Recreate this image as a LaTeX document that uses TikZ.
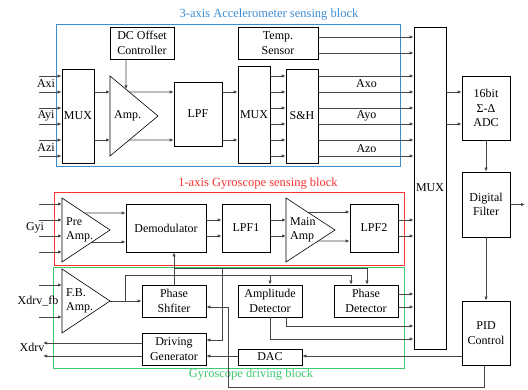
\documentclass[tikz,border=0pt]{standalone}
\usepackage{fontspec}
\setmainfont{Liberation Serif}
\usetikzlibrary{arrows.meta,calc}
\definecolor{cblue}{RGB}{60,140,210}
\definecolor{cred}{RGB}{250,50,50}
\definecolor{cgreen}{RGB}{60,200,110}
\definecolor{cline}{RGB}{70,70,70}
\newcommand\fs{\fontsize{12}{14.5}\selectfont}
\begin{document}
\begin{tikzpicture}[x=1pt,y=-1pt,
 blk/.style={draw=black, line width=0.6pt, inner sep=0pt, align=center, font=\fs},
 tri/.style={draw=black, line width=0.6pt},
 con/.style={draw=cline, line width=0.8pt},
 arr/.style={con, -{Latex[length=4pt,width=3.4pt]}},
 lbl/.style={font=\fs, inner sep=0pt, align=left},
 ttl/.style={font=\fontsize{12.5}{14}\selectfont, inner sep=0pt},
 frame/.style={line width=0.8pt}]
\useasboundingbox (0,0) rectangle (528,390);
% frames
\draw[frame,draw=cblue] (56,24) rectangle (400,166);
\draw[frame,draw=cred] (54,192) rectangle (404,265);
\draw[frame,draw=cgreen] (53,267) rectangle (404,368);
\node[ttl,text=cblue] (tacc) at (269,15) {3-axis Accelerometer sensing block};
\node[ttl,text=cred] (tgyr) at (258,184) {1-axis Gyroscope sensing block};
\node[ttl,text=cgreen] (tdrv) at (251,375) {Gyroscope driving block};
% accelerometer blocks
\node[blk,minimum width=64pt,minimum height=32pt] (dc) at (142,43) {DC Offset\\Controller};
\node[blk,minimum width=80pt,minimum height=32pt] (temp) at (278,43) {Temp.\\Sensor};
\node[blk,minimum width=32pt,minimum height=94pt] (mux1) at (78,116) {MUX};
\coordinate (ampT) at (110,76); \coordinate (ampB) at (110,156); \coordinate (ampA) at (158,116);
\draw[tri] (ampT) -- (ampA) -- (ampB) -- cycle;
\node[lbl,anchor=west] (amptxt) at (114,116) {Amp.};
\node[blk,minimum width=48pt,minimum height=64pt] (lpf) at (198,114) {LPF};
\node[blk,minimum width=32pt,minimum height=97pt] (mux2) at (254,114.5) {MUX};
\node[blk,minimum width=32pt,minimum height=94pt] (sh) at (302,116) {S\&H};
\node[blk,minimum width=32pt,minimum height=322pt] (bmux) at (430,188) {MUX};
\node[blk,minimum width=48pt,minimum height=64pt] (adc) at (486,108) {16bit\\Σ-Δ\\ADC};
\node[blk,minimum width=48pt,minimum height=65pt] (df) at (486,204.5) {Digital\\Filter};
\node[blk,minimum width=48pt,minimum height=64pt] (pid) at (486,333) {PID\\Control};
% gyro sensing
\coordinate (paT) at (62,198); \coordinate (paB) at (62,262); \coordinate (paA) at (110,230);
\draw[tri] (paT) -- (paA) -- (paB) -- cycle;
\node[lbl,anchor=west] (patxt) at (66,230) {Pre\\Amp.};
\node[blk,minimum width=80pt,minimum height=48pt] (dem) at (166,228) {Demodulator};
\node[blk,minimum width=48pt,minimum height=48pt] (lpf1) at (246,228) {LPF1};
\coordinate (maT) at (286,198); \coordinate (maB) at (286,262); \coordinate (maA) at (335,230);
\draw[tri] (maT) -- (maA) -- (maB) -- cycle;
\node[lbl,anchor=west] (matxt) at (290,230) {Main\\Amp};
\node[blk,minimum width=48pt,minimum height=48pt] (lpf2) at (374,228) {LPF2};
% gyro driving
\coordinate (fbT) at (62,269); \coordinate (fbB) at (62,333); \coordinate (fbA) at (110,301);
\draw[tri] (fbT) -- (fbA) -- (fbB) -- cycle;
\node[lbl,anchor=west] (fbtxt) at (66,301) {F.B.\\Amp.};
\node[blk,minimum width=64pt,minimum height=32pt] (ps) at (174,301) {Phase\\Shfiter};
\node[blk,minimum width=64pt,minimum height=32pt] (ad) at (270,301) {Amplitude\\Detector};
\node[blk,minimum width=64pt,minimum height=32pt] (pd) at (366,301) {Phase\\Detector};
\node[blk,minimum width=64pt,minimum height=32pt] (dg) at (174,349) {Driving\\Generator};
\node[blk,minimum width=64pt,minimum height=16pt] (dac) at (270,357) {DAC};
% input labels
\node[lbl] (laxi) at (46,84) {Axi};
\node[lbl] (layi) at (46,116) {Ayi};
\node[lbl] (lazi) at (46,148) {Azi};
\node[lbl] (laxo) at (366.5,84) {Axo};
\node[lbl] (layo) at (366.5,116) {Ayo};
\node[lbl] (lazo) at (366.5,149) {Azo};
\node[lbl] (lgyi) at (35,228) {Gyi};
\node[lbl] (lxfb) at (38,301) {Xdrv\_fb};
\node[lbl] (lxdrv) at (32,347) {Xdrv};
% accelerometer connectors
\foreach \y in {76,92,108,124,140,156} \draw[arr] (39,\y) -- (mux1.west |- 0,\y);
\foreach \y in {92,140} \draw[arr] (mux1.east |- 0,\y) -- (ampT |- 0,\y);
\draw[arr] ($(ampT)!0.4!(ampA)$) -- (lpf.west |- 0,92);
\draw[arr] ($(ampB)!0.4!(ampA)$) -- (lpf.west |- 0,140);
\draw[arr] (dc.south -| 126,0) -- ($(ampT)!0.333!(ampA)$);
\foreach \y in {92,140} \draw[arr] (lpf.east |- 0,\y) -- (mux2.west |- 0,\y);
\foreach \y in {76,92,108,124,140,156} \draw[arr] (mux2.east |- 0,\y) -- (sh.west |- 0,\y);
\foreach \y in {76,92,108,124,140,156} \draw[arr] (sh.east |- 0,\y) -- (bmux.west |- 0,\y);
\foreach \y in {37,53} \draw[arr] (temp.east |- 0,\y) -- (bmux.west |- 0,\y);
\foreach \y in {92,124} \draw[arr] (bmux.east |- 0,\y) -- (adc.west |- 0,\y);
\draw[arr] (adc.south) -- (df.north);
\coordinate (dfout) at (525,204.5);
\draw[arr] (df.east) -- (dfout);
\draw[arr] (df.south) -- (pid.north);
% gyro sensing connectors
\foreach \y in {204,220,236,252} \draw[arr] (39,\y) -- (paT |- 0,\y);
\draw[arr] ($(paT)!0.469!(paA)$) -- (dem.west |- 0,213);
\draw[arr] ($(paB)!0.625!(paA)$) -- (dem.west |- 0,242);
\foreach \y in {220,236} \draw[arr] (dem.east |- 0,\y) -- (lpf1.west |- 0,\y);
\foreach \y in {220,236} \draw[arr] (lpf1.east |- 0,\y) -- (maT |- 0,\y);
\draw[arr] ($(maT)!0.4375!(maA)$) -- (lpf2.west |- 0,212);
\draw[arr] ($(maB)!0.656!(maA)$) -- (lpf2.west |- 0,241);
\foreach \y in {220,236} \draw[arr] (lpf2.east |- 0,\y) -- (bmux.west |- 0,\y);
% gyro driving connectors
\foreach \y in {285,317} \draw[arr] (39,\y) -- (fbT |- 0,\y);
\draw[arr] (fbA) -- (ps.west);
\coordinate (br1) at (125,301);
\draw[arr] (br1) -- (125,275) -- (351,275) -- (pd.north -| 351,0);
\draw[arr] (ad.north |- 0,275) -- (ad.north);
\draw[arr] (ps.north) -- (ps.north |- dem.south);
\draw[arr] (ps.north |- 0,268) -- (367,268) -- (pd.north -| 367,0);
\draw[arr] (222,268) -- (222,340) -- (dg.east |- 0,340);
\draw[arr] (ad.south -| 286,0) -- (286,326) -- (bmux.west |- 0,326);
\draw[arr] (ad.south) -- (270,339) -- (bmux.west |- 0,339);
\foreach \y in {294,307} \draw[arr] (pd.east |- 0,\y) -- (bmux.west |- 0,\y);
\draw[arr] (pid.west |- 0,356) -- (dac.east |- 0,356);
\draw[arr] (dac.west |- 0,356) -- (dg.east |- 0,356);
\foreach \y in {343,356} \draw[arr] (dg.west |- 0,\y) -- (43,\y);
\draw[arr] (pid.south -| 484,0) -- (484,387) -- (228,387) -- (228,307) -- (ps.east |- 0,307);
\end{tikzpicture}
\end{document}
